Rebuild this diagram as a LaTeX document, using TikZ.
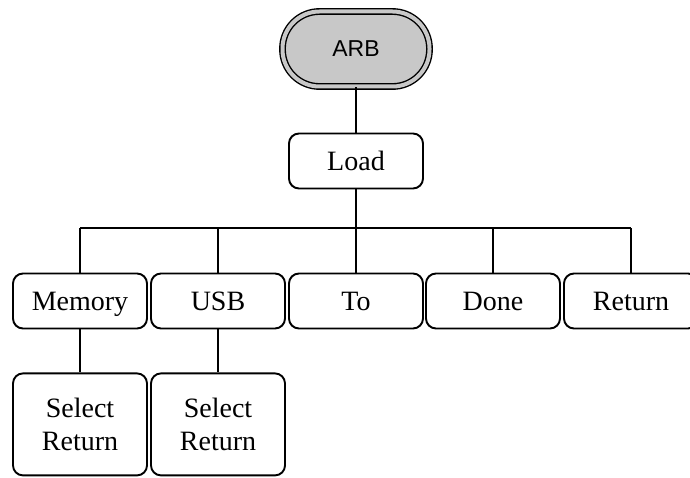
\documentclass[tikz,border=0pt]{standalone}
\usepackage{fontspec}
\setmainfont{Liberation Serif}
\newfontfamily\arbfont{Liberation Sans}
\usetikzlibrary{positioning}
\definecolor{MENUsiva}{HTML}{C8C8C8}

\begin{document}
\begin{tikzpicture}[x=1pt,y=-1pt,
 MENUokvir/.style={draw,line width=1.9pt,rounded corners=10pt,minimum width=134pt,inner sep=0pt},
 MENUtipka/.style={MENUokvir,minimum height=55pt,text height=19pt,text depth=0pt,font=\fontsize{28}{30}\selectfont},
 MENUdvoj/.style={MENUokvir,minimum height=102pt,align=center,font=\fontsize{28}{33}\selectfont},
 MENUveza/.style={line width=2.8pt}]
\clip (0,0) rectangle (690,478);
\node[draw,line width=1.4pt,double=MENUsiva,double distance=4pt,fill=MENUsiva,rounded corners=37pt,
 minimum width=147pt,minimum height=75pt,font=\arbfont\fontsize{23}{26}\selectfont] (arb) at (356,49) {ARB};
\node[MENUtipka] (load) at (356,161) {Load};
\foreach \x/\ime/\lab in {80/mem/Memory,218/usb/USB,356/to/To,493/done/Done,631/ret/Return}{
 \node[MENUtipka] (\ime) at (\x,301) {\lab};
 \draw[MENUveza] (\ime.north)--(\ime.north|-0,228);}
\draw[MENUveza] (arb.south)--(load.north);
\draw[MENUveza] (load.south)--(load.south|-0,228);
\draw[MENUveza] (mem.north|-0,228)--(ret.north|-0,228);
\foreach \ime in {mem,usb}{
 \node[MENUdvoj,below=43pt of \ime.south,anchor=north] (\ime sel) {Select\\Return};
 \draw[MENUveza] (\ime.south)--(\ime sel.north);}
\end{tikzpicture}
\end{document}
